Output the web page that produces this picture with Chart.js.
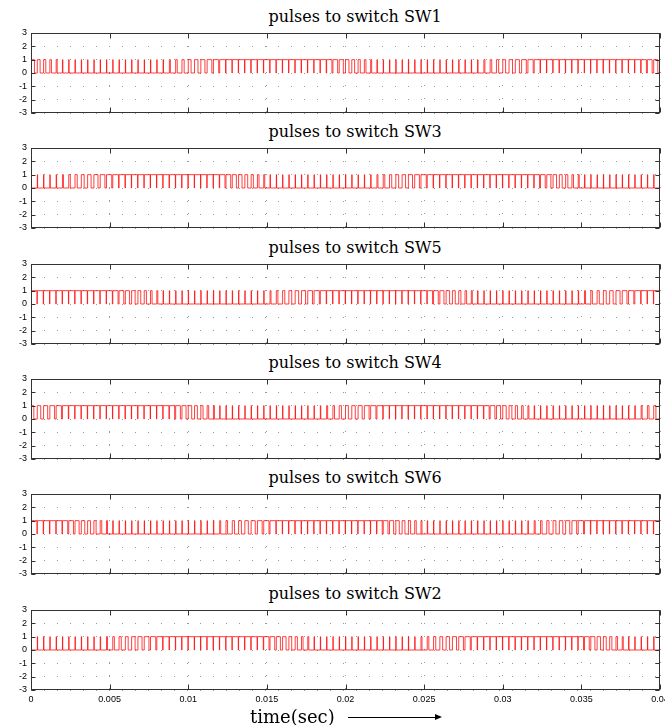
<!DOCTYPE html>
<html lang="en">
<head>
    <meta charset="UTF-8">
    <title>pulses to switches</title>
    <script src="https://cdn.jsdelivr.net/npm/chart.js"></script>
    <style>
        body { margin: 0; background: #fff; width: 665px; height: 725px; overflow: hidden; position: relative; }
        canvas { position: absolute; left: 0; }
        .ttl { position: absolute; left: 205px; width: 300px; height: 20px; line-height: 20px; text-align: center;
               font-family: 'DejaVu Serif', serif; font-size: 16px; color: #000; }
        .xlab { position: absolute; left: 250px; top: 705px; font-family: 'DejaVu Serif', serif; font-size: 18px; line-height: 24px; }
        .arrow { position: absolute; left: 348px; top: 717px; width: 88px; border-top: 1px solid #000; }
        .arrow:after { content: ''; position: absolute; right: -6px; top: -4px; border-left: 7px solid #000;
                       border-top: 3px solid transparent; border-bottom: 3px solid transparent; }
    </style>
</head>
<body>
    <div id="wrap"></div>
    <div class="xlab">time(sec)</div>
    <div class="arrow"></div>
    <script>
        // switching period 0.4 ms (100 pulses in 0.04 s), duty cycles in %
        const period = 0.0004;
        const tEnd = 0.04;
        const titles = ['pulses to switch SW1', 'pulses to switch SW3', 'pulses to switch SW5',
                        'pulses to switch SW4', 'pulses to switch SW6', 'pulses to switch SW2'];
        const yTicks = [-3, -2, -1, 0, 1, 2, 3];
        const xTicks = [0, 0.005, 0.01, 0.015, 0.02, 0.025, 0.03, 0.035, 0.04];

        const dutySW1 = [55,45,35,25,16,7,5,5,5,5,5,5,5,5,5,5,5,5,5,5,5,7,16,25,35,45,55,65,75,84,93,95,95,95,95,95,95,95,95,95,95,95,95,95,95,95,93,84,75,65,
                         55,45,35,25,16,7,5,5,5,5,5,5,5,5,5,5,5,5,5,5,5,7,16,25,35,45,55,65,75,84,93,95,95,95,95,95,95,95,95,95,95,95,95,95,95,95,93,84,75,65];
        const dutySW3 = [5,5,5,5,7,16,25,35,45,55,65,75,84,93,95,95,95,95,95,95,95,95,95,95,95,95,95,95,95,93,84,75,65,55,45,35,25,16,7,5,5,5,5,5,5,5,5,5,5,5,
                         5,5,5,5,7,16,25,35,45,55,65,75,84,93,95,95,95,95,95,95,95,95,95,95,95,95,95,95,95,93,84,75,65,55,45,35,25,16,7,5,5,5,5,5,5,5,5,5,5,5];
        const dutySW5 = [95,95,95,95,95,95,95,95,95,95,95,95,93,84,75,65,55,45,35,25,16,7,5,5,5,5,5,5,5,5,5,5,5,5,5,5,5,7,16,25,35,45,55,65,75,84,93,95,95,95,
                         95,95,95,95,95,95,95,95,95,95,95,95,93,84,75,65,55,45,35,25,16,7,5,5,5,5,5,5,5,5,5,5,5,5,5,5,5,7,16,25,35,45,55,65,75,84,93,95,95,95];
        const dutySW4 = [45,55,65,75,84,93,95,95,95,95,95,95,95,95,95,95,95,95,95,95,95,93,84,75,65,55,45,35,25,16,7,5,5,5,5,5,5,5,5,5,5,5,5,5,5,5,7,16,25,35,
                         45,55,65,75,84,93,95,95,95,95,95,95,95,95,95,95,95,95,95,95,95,93,84,75,65,55,45,35,25,16,7,5,5,5,5,5,5,5,5,5,5,5,5,5,5,5,7,16,25,35];
        const dutySW6 = [95,95,95,95,93,84,75,65,55,45,35,25,16,7,5,5,5,5,5,5,5,5,5,5,5,5,5,5,5,7,16,25,35,45,55,65,75,84,93,95,95,95,95,95,95,95,95,95,95,95,
                         95,95,95,95,93,84,75,65,55,45,35,25,16,7,5,5,5,5,5,5,5,5,5,5,5,5,5,5,5,7,16,25,35,45,55,65,75,84,93,95,95,95,95,95,95,95,95,95,95,95];
        const dutySW2 = [5,5,5,5,5,5,5,5,5,5,5,7,16,25,35,45,55,65,75,84,93,95,95,95,95,95,95,95,95,95,95,95,95,95,95,95,93,84,75,65,55,45,35,25,16,7,5,5,5,5,
                         5,5,5,5,5,5,5,5,5,5,5,7,16,25,35,45,55,65,75,84,93,95,95,95,95,95,95,95,95,95,95,95,95,95,95,95,93,84,75,65,55,45,35,25,16,7,5,5,5,5];
        const duties = [dutySW1, dutySW3, dutySW5, dutySW4, dutySW6, dutySW2];

        const chartTops = [33, 148, 264, 379, 494, 610];

        // turn duty list into step points: high at start of each period, low after d%
        function pulsePoints(duty) {
            const pts = [];
            duty.forEach((d, k) => {
                const t0 = k * period;
                pts.push({x: t0, y: 1});
                pts.push({x: t0 + d / 100 * period, y: 0});
            });
            pts.push({x: tEnd, y: 0});
            return pts;
        }

        // matlab style box + inward ticks
        const framePlugin = {
            id: 'frame',
            afterDraw(chart) {
                const {ctx, chartArea: a, scales} = chart;
                const l = Math.round(a.left) + 0.5, r = Math.round(a.right) - 0.5;
                const t = Math.round(a.top) + 0.5, b = Math.round(a.bottom) - 0.5;
                ctx.save();
                ctx.strokeStyle = '#333';
                ctx.lineWidth = 1;
                ctx.strokeRect(l, t, r - l, b - t);
                ctx.beginPath();
                xTicks.forEach(v => {
                    const px = Math.round(scales.x.getPixelForValue(v)) + 0.5;
                    ctx.moveTo(px, t); ctx.lineTo(px, t + 5);
                    ctx.moveTo(px, b); ctx.lineTo(px, b - 5);
                });
                yTicks.forEach(v => {
                    const py = Math.round(scales.y.getPixelForValue(v)) + 0.5;
                    ctx.moveTo(l, py); ctx.lineTo(l + 4, py);
                    ctx.moveTo(r, py); ctx.lineTo(r - 4, py);
                });
                ctx.stroke();
                ctx.restore();
            }
        };

        const wrap = document.getElementById('wrap');
        duties.forEach((duty, i) => {
            const last = i === duties.length - 1;
            const padTop = 6, xH = last ? 16 : 0, padBottom = 4;
            const canvas = document.createElement('canvas');
            canvas.width = 665;
            canvas.height = padTop + 80 + xH + padBottom;
            canvas.style.top = (chartTops[i] - padTop) + 'px';
            wrap.appendChild(canvas);

            const ttl = document.createElement('div');
            ttl.className = 'ttl';
            ttl.style.top = (chartTops[i] - 26) + 'px';
            ttl.textContent = titles[i];
            wrap.appendChild(ttl);

            new Chart(canvas.getContext('2d'), {
                type: 'line',
                data: {
                    datasets: [{
                        data: pulsePoints(duty),
                        stepped: true,
                        borderColor: 'rgba(255, 0, 0, 0.75)',
                        borderWidth: 1,
                        pointRadius: 0,
                        fill: false
                    }]
                },
                options: {
                    responsive: false,
                    animation: false,
                    events: [],
                    layout: { padding: { top: padTop, right: 5, bottom: padBottom, left: 0 } },
                    plugins: { legend: { display: false }, tooltip: { enabled: false } },
                    scales: {
                        x: {
                            type: 'linear',
                            min: 0,
                            max: tEnd,
                            afterBuildTicks: s => { s.ticks = xTicks.map(v => ({value: v})); },
                            afterFit: s => { s.paddingLeft = 0; s.paddingRight = 0; s.height = xH; },
                            grid: { color: '#9a9a9a', drawTicks: false },
                            border: { display: false, dash: [1, 12] },
                            ticks: {
                                display: last,
                                autoSkip: false,
                                maxRotation: 0,
                                padding: 4,
                                color: '#000',
                                font: { family: 'Liberation Sans, Arial', size: 9 },
                                callback: v => String(+v.toFixed(3))
                            }
                        },
                        y: {
                            min: -3,
                            max: 3,
                            afterBuildTicks: s => { s.ticks = yTicks.map(v => ({value: v})); },
                            afterFit: s => { s.width = 31; s.paddingTop = 0; s.paddingBottom = 0; },
                            grid: { color: '#9a9a9a', drawTicks: false },
                            border: { display: false, dash: [1, 12] },
                            ticks: {
                                autoSkip: false,
                                padding: 4,
                                color: '#000',
                                font: { family: 'Liberation Sans, Arial', size: 9 }
                            }
                        }
                    }
                },
                plugins: [framePlugin]
            });
        });
    </script>
</body>
</html>
